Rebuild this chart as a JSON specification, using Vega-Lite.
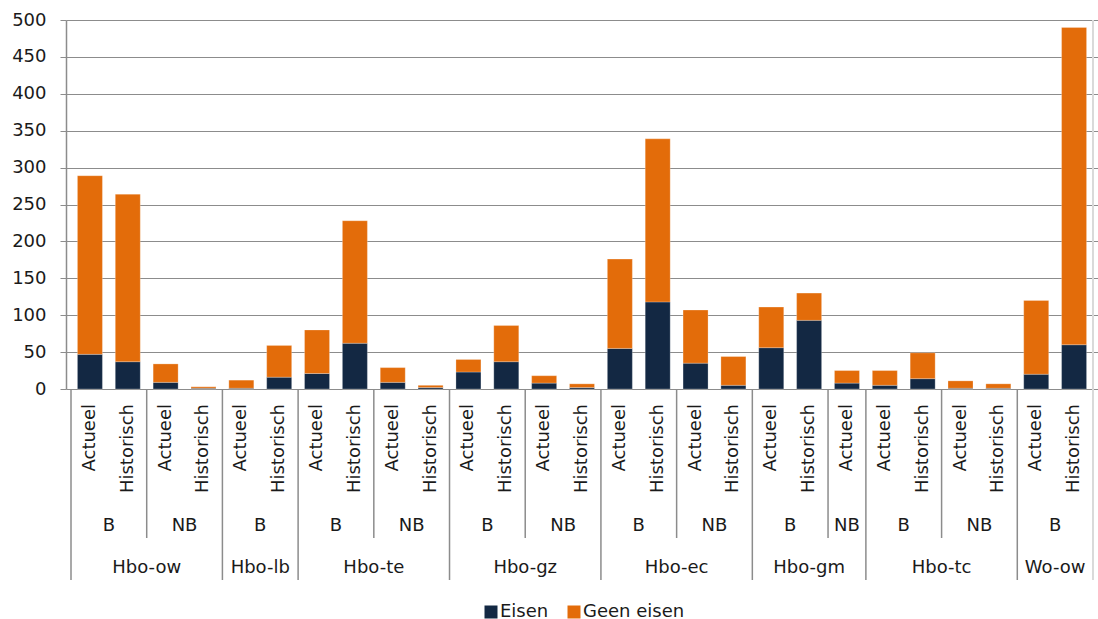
{
  "$schema": "https://vega.github.io/schema/vega-lite/v6.json",
  "background": "white",
  "padding": {"left": 11, "top": 11, "right": 1, "bottom": 1},
  "config": {
    "font": "DejaVu Sans",
    "view": {"stroke": null},
    "axis": {"labelFont": "DejaVu Sans", "labelColor": "#1a1a1a"}
  },
  "datasets": {
    "bars": [
      {"sector": "Hbo-ow", "group": "B", "period": "Actueel", "Eisen": 47, "Geen eisen": 242},
      {"sector": "Hbo-ow", "group": "B", "period": "Historisch", "Eisen": 37, "Geen eisen": 227},
      {"sector": "Hbo-ow", "group": "NB", "period": "Actueel", "Eisen": 9, "Geen eisen": 25},
      {"sector": "Hbo-ow", "group": "NB", "period": "Historisch", "Eisen": 1, "Geen eisen": 2},
      {"sector": "Hbo-lb", "group": "B", "period": "Actueel", "Eisen": 1, "Geen eisen": 11},
      {"sector": "Hbo-lb", "group": "B", "period": "Historisch", "Eisen": 16, "Geen eisen": 43},
      {"sector": "Hbo-te", "group": "B", "period": "Actueel", "Eisen": 21, "Geen eisen": 59},
      {"sector": "Hbo-te", "group": "B", "period": "Historisch", "Eisen": 62, "Geen eisen": 166},
      {"sector": "Hbo-te", "group": "NB", "period": "Actueel", "Eisen": 9, "Geen eisen": 20},
      {"sector": "Hbo-te", "group": "NB", "period": "Historisch", "Eisen": 2, "Geen eisen": 3},
      {"sector": "Hbo-gz", "group": "B", "period": "Actueel", "Eisen": 23, "Geen eisen": 17},
      {"sector": "Hbo-gz", "group": "B", "period": "Historisch", "Eisen": 37, "Geen eisen": 49},
      {"sector": "Hbo-gz", "group": "NB", "period": "Actueel", "Eisen": 8, "Geen eisen": 10},
      {"sector": "Hbo-gz", "group": "NB", "period": "Historisch", "Eisen": 2, "Geen eisen": 5},
      {"sector": "Hbo-ec", "group": "B", "period": "Actueel", "Eisen": 55, "Geen eisen": 121},
      {"sector": "Hbo-ec", "group": "B", "period": "Historisch", "Eisen": 118, "Geen eisen": 221},
      {"sector": "Hbo-ec", "group": "NB", "period": "Actueel", "Eisen": 35, "Geen eisen": 72},
      {"sector": "Hbo-ec", "group": "NB", "period": "Historisch", "Eisen": 5, "Geen eisen": 39},
      {"sector": "Hbo-gm", "group": "B", "period": "Actueel", "Eisen": 56, "Geen eisen": 55},
      {"sector": "Hbo-gm", "group": "B", "period": "Historisch", "Eisen": 93, "Geen eisen": 37},
      {"sector": "Hbo-gm", "group": "NB", "period": "Actueel", "Eisen": 8, "Geen eisen": 17},
      {"sector": "Hbo-tc", "group": "B", "period": "Actueel", "Eisen": 5, "Geen eisen": 20},
      {"sector": "Hbo-tc", "group": "B", "period": "Historisch", "Eisen": 14, "Geen eisen": 35},
      {"sector": "Hbo-tc", "group": "NB", "period": "Actueel", "Eisen": 1, "Geen eisen": 10},
      {"sector": "Hbo-tc", "group": "NB", "period": "Historisch", "Eisen": 1, "Geen eisen": 6},
      {"sector": "Wo-ow", "group": "B", "period": "Actueel", "Eisen": 20, "Geen eisen": 100},
      {"sector": "Wo-ow", "group": "B", "period": "Historisch", "Eisen": 60, "Geen eisen": 430}
    ]
  },
  "data": {"name": "bars"},
  "transform": [{"window": [{"op": "row_number", "as": "idx"}]}],
  "spacing": 0,
  "bounds": "flush",
  "resolve": {"scale": {"x": "shared", "color": "shared"}},
  "vconcat": [
    {
      "width": 1032,
      "height": 369,
      "layer": [
        {
          "transform": [{"fold": ["Eisen", "Geen eisen"], "as": ["serie", "aantal"]}],
          "mark": {"type": "bar", "size": 25, "stroke": "#ffffff", "strokeWidth": 0.5, "strokeOpacity": 0.5},
          "encoding": {
            "x": {
              "field": "idx", "type": "quantitative",
              "scale": {"domain": [0.5, 27.5], "nice": false, "zero": false},
              "axis": null
            },
            "y": {
              "field": "aantal", "type": "quantitative", "stack": "zero",
              "scale": {"domain": [0, 500], "nice": false},
              "axis": {
                "values": [0, 50, 100, 150, 200, 250, 300, 350, 400, 450, 500],
                "title": null, "grid": true, "gridColor": "#8c8c8c", "gridWidth": 1.2,
                "domainColor": "#8c8c8c", "domainWidth": 1.5, "tickColor": "#8c8c8c", "tickSize": 6,
                "labelFontSize": 18, "labelPadding": 14
              }
            },
            "order": {"field": "serie", "sort": "ascending"},
            "color": {
              "field": "serie", "type": "nominal",
              "scale": {"domain": ["Eisen", "Geen eisen"], "range": ["#132843", "#E36C0A"]},
              "legend": {
                "title": null, "orient": "none", "direction": "horizontal",
                "legendX": 416, "legendY": 583,
                "symbolType": "square", "symbolSize": 169, "symbolStrokeWidth": 0,
                "labelFontSize": 18, "labelColor": "#1a1a1a", "labelOffset": 0,
                "columnPadding": 16
              }
            }
          }
        },
        {
          "mark": {"type": "rule", "color": "#d9d9d9", "strokeWidth": 1},
          "encoding": {"x": {"datum": 27.5, "type": "quantitative"}}
        }
      ]
    },
    {
      "width": 1032,
      "height": 107,
      "layer": [
        {
          "transform": [
            {"aggregate": [{"op": "min", "field": "idx", "as": "start"}], "groupby": ["sector", "group"]},
            {"calculate": "datum.start - 0.5", "as": "edge"}
          ],
          "mark": {"type": "rule", "color": "#8c8c8c", "strokeWidth": 1.5},
          "encoding": {"x": {"field": "edge", "type": "quantitative", "scale": {"domain": [0.5, 27.5], "nice": false, "zero": false}, "axis": null}}
        },
        {
          "mark": {"type": "rule", "color": "#d9d9d9", "strokeWidth": 1},
          "encoding": {"x": {"datum": 27.5, "type": "quantitative"}}
        },
        {
          "mark": {"type": "text", "angle": 270, "align": "right", "baseline": "middle", "fontSize": 18, "color": "#1a1a1a", "yOffset": 15},
          "encoding": {
            "x": {"field": "idx", "type": "quantitative"},
            "y": {"datum": 1, "type": "quantitative", "scale": {"domain": [0, 1]}, "axis": null},
            "text": {"field": "period"}
          }
        }
      ]
    },
    {
      "width": 1032,
      "height": 42,
      "layer": [
        {
          "transform": [
            {"aggregate": [{"op": "min", "field": "idx", "as": "start"}], "groupby": ["sector", "group"]},
            {"calculate": "datum.start - 0.5", "as": "edge"}
          ],
          "mark": {"type": "rule", "color": "#8c8c8c", "strokeWidth": 1.5},
          "encoding": {"x": {"field": "edge", "type": "quantitative", "scale": {"domain": [0.5, 27.5], "nice": false, "zero": false}, "axis": null}}
        },
        {
          "mark": {"type": "rule", "color": "#d9d9d9", "strokeWidth": 1},
          "encoding": {"x": {"datum": 27.5, "type": "quantitative"}}
        },
        {
          "transform": [{"aggregate": [{"op": "mean", "field": "idx", "as": "center"}], "groupby": ["sector", "group"]}],
          "mark": {"type": "text", "align": "center", "baseline": "top", "fontSize": 18, "color": "#1a1a1a"},
          "encoding": {
            "x": {"field": "center", "type": "quantitative"},
            "text": {"field": "group"}
          }
        }
      ]
    },
    {
      "width": 1032,
      "height": 42,
      "layer": [
        {
          "transform": [
            {"aggregate": [{"op": "min", "field": "idx", "as": "start"}], "groupby": ["sector"]},
            {"calculate": "datum.start - 0.5", "as": "edge"}
          ],
          "mark": {"type": "rule", "color": "#8c8c8c", "strokeWidth": 1.5},
          "encoding": {"x": {"field": "edge", "type": "quantitative", "scale": {"domain": [0.5, 27.5], "nice": false, "zero": false}, "axis": null}}
        },
        {
          "mark": {"type": "rule", "color": "#d9d9d9", "strokeWidth": 1},
          "encoding": {"x": {"datum": 27.5, "type": "quantitative"}}
        },
        {
          "transform": [{"aggregate": [{"op": "mean", "field": "idx", "as": "center"}], "groupby": ["sector"]}],
          "mark": {"type": "text", "align": "center", "baseline": "top", "fontSize": 18, "color": "#1a1a1a"},
          "encoding": {
            "x": {"field": "center", "type": "quantitative"},
            "text": {"field": "sector"}
          }
        }
      ]
    }
  ]
}
